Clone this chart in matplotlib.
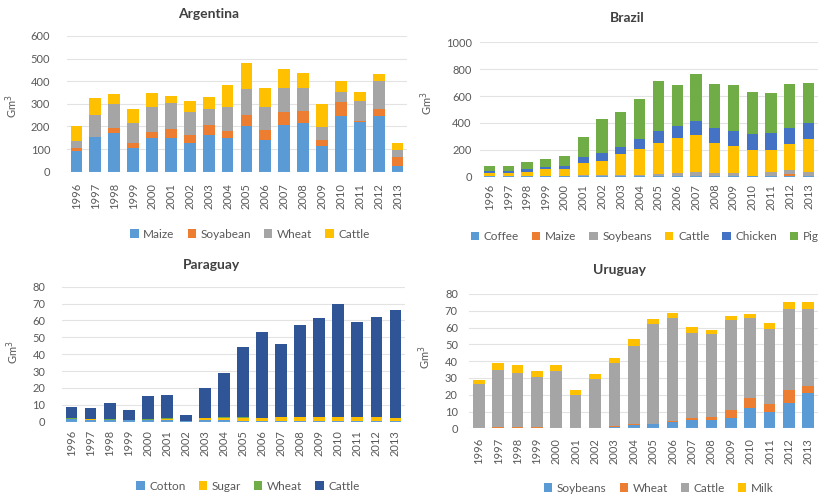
import matplotlib
matplotlib.use("Agg")
import matplotlib.pyplot as plt
import numpy as np
from matplotlib.patches import Patch

plt.rcParams['font.family'] = ['Lato', 'DejaVu Sans']

years = [str(y) for y in range(1996, 2014)]

# Argentina (Gm3)
arg_maize = [91, 152, 172, 105, 150, 150, 127, 164, 149, 204, 142, 206, 214, 115, 245, 220, 248, 27]
arg_soy = [15, 3, 20, 20, 24, 40, 37, 42, 32, 47, 42, 58, 56, 25, 63, 3, 31, 39]
arg_wheat = [31, 96, 109, 92, 114, 115, 98, 71, 107, 116, 104, 108, 99, 56, 46, 91, 122, 30]
arg_cattle = [65, 76, 43, 60, 60, 28, 51, 55, 95, 112, 84, 82, 66, 102, 46, 37, 31, 32]

# Brazil (Gm3)
bra_coffee = [2, 2, 2, 2, 2, 3, 3, 3, 3, 3, 3, 3, 3, 3, 2, 3, 3, 3]
bra_maize = [0, 0, 0, 0, 0, 1, 1, 1, 1, 2, 2, 3, 3, 4, 2, 3, 18, 4]
bra_soy = [2, 2, 3, 3, 3, 6, 6, 8, 6, 15, 20, 26, 19, 23, 4, 31, 28, 30]
bra_cattle = [21, 21, 32, 52, 50, 95, 110, 155, 195, 232, 266, 277, 227, 197, 194, 165, 198, 247]
bra_chicken = [20, 20, 20, 18, 25, 45, 55, 55, 77, 86, 87, 103, 113, 111, 114, 124, 118, 118]
bra_pig = [35, 35, 50, 60, 77, 142, 255, 263, 293, 371, 306, 353, 326, 346, 314, 296, 326, 297]

# Paraguay (Gm3)
par_cotton = [1.5, 1.2, 1, 0.8, 1, 1.2, 0.3, 0.8, 0.8, 0.4, 0.2, 0.2, 0.2, 0.2, 0.2, 0.2, 0.2, 0.2]
par_sugar = [0.3, 0.3, 0.3, 0.3, 0.3, 0.5, 0.3, 1.2, 1.5, 2, 2, 2.5, 2.5, 2.5, 2.5, 2.5, 2.5, 2]
par_wheat = [0.1, 0.1, 0.1, 0.1, 0.1, 0.2, 0.1, 0.2, 0.2, 0.2, 0.2, 0.2, 0.2, 0.2, 0.2, 0.2, 0.2, 0.2]
par_cattle = [7.1, 6.4, 9.6, 5.8, 13.6, 14.1, 3.3, 17.8, 26.5, 41.4, 50.6, 43.1, 54.6, 58.6, 67.1, 56.4, 59.3, 63.6]

# Uruguay (Gm3)
uru_soy = [0, 0, 0, 0, 0, 0, 0, 1, 2, 2.5, 3.5, 5, 5, 6, 12, 10, 15.3, 21.2]
uru_wheat = [0.3, 0.5, 0.5, 0.5, 0.3, 0.2, 0.3, 0.3, 0.3, 0.3, 1, 1, 2, 5, 6, 4.5, 7.5, 3.8]
uru_cattle = [26.1, 34.5, 32.2, 30.3, 34, 19.6, 29.1, 37.4, 46.7, 59.2, 61.5, 51, 49, 53.5, 47.5, 44.5, 48.2, 46]
uru_milk = [2.6, 3.7, 5, 3.2, 3.4, 2.8, 2.9, 3.2, 4, 3, 2.7, 3.5, 2.5, 2.5, 2.5, 3.5, 4, 4]

BLUE = "#5B9BD5"
ORANGE = "#ED7D31"
GRAY = "#A5A5A5"
GOLD = "#FFC000"
MIDBLUE = "#4472C4"
GREEN = "#70AD47"
DARKBLUE = "#2F5597"
TEXT = "#595959"

W, H = 831, 498
fig = plt.figure(figsize=(W / 100, H / 100), dpi=100)


def px_axes(x0, x1, y0, y1):
    return fig.add_axes([x0 / W, 1 - y1 / H, (x1 - x0) / W, (y1 - y0) / H])


def panel(rect, series, names, colors, ymax, ystep, title, title_xy, legend_xy,
          ylab_xy, ypad, xpad, width=0.62):
    ax = px_axes(*rect)
    x = np.arange(len(years))
    bottom = np.zeros(len(years))
    for vals, c in zip(series, colors):
        v = np.asarray(vals, dtype=float)
        ax.bar(x, v, width=width, bottom=bottom, color=c, linewidth=0, zorder=3)
        bottom += v
    ax.set_xlim(-0.5, len(years) - 0.5)
    ax.set_ylim(0, ymax)
    ax.set_yticks(np.arange(0, ymax + ystep / 2, ystep))
    ax.set_xticks(x)
    ax.set_xticklabels(years, rotation=90)
    ax.tick_params(axis='both', length=0, labelsize=8, colors=TEXT)
    ax.tick_params(axis='y', pad=ypad)
    ax.tick_params(axis='x', pad=xpad)
    ax.grid(axis='y', color="#E3E3E3", linewidth=0.8, zorder=0)
    for s in ax.spines.values():
        s.set_visible(False)
    ax.axhline(0, color="#D9D9D9", linewidth=0.8, zorder=4)
    fig.text(title_xy[0] / W, 1 - title_xy[1] / H, title, ha='center', va='center',
             fontsize=10, fontweight='bold', color="#404040")
    fig.text(ylab_xy[0] / W, 1 - ylab_xy[1] / H, "Gm$^3$", ha='center', va='center',
             rotation=90, fontsize=8, color=TEXT)
    handles = [Patch(facecolor=c, edgecolor='none', label=n) for n, c in zip(names, colors)]
    fig.legend(handles=handles, loc='center', ncol=len(names), frameon=False,
               bbox_to_anchor=(legend_xy[0] / W, 1 - legend_xy[1] / H),
               fontsize=8.5, handlelength=0.7, handleheight=0.7, handletextpad=0.4,
               columnspacing=1.1, labelcolor=TEXT)
    return ax


panel((67, 407, 36, 171.7),
      [arg_maize, arg_soy, arg_wheat, arg_cattle],
      ["Maize", "Soyabean", "Wheat", "Cattle"],
      [BLUE, ORANGE, GRAY, GOLD],
      600, 100, "Argentina", (209, 14), (250, 234), (12, 106), 12, 8)

panel((480, 818, 42.3, 176.7),
      [bra_coffee, bra_maize, bra_soy, bra_cattle, bra_chicken, bra_pig],
      ["Coffee", "Maize", "Soybeans", "Cattle", "Chicken", "Pig"],
      [BLUE, ORANGE, GRAY, GOLD, MIDBLUE, GREEN],
      1000, 200, "Brazil", (627, 18), (645, 237), (427, 103), 6, 5, width=0.6)

panel((62, 405, 286.7, 421.7),
      [par_cotton, par_sugar, par_wheat, par_cattle],
      ["Cotton", "Sugar", "Wheat", "Cattle"],
      [BLUE, GOLD, GREEN, DARKBLUE],
      80, 10, "Paraguay", (212, 265), (248, 486), (13, 352), 12, 6)

panel((469, 818, 294, 428.3),
      [uru_soy, uru_wheat, uru_cattle, uru_milk],
      ["Soybeans", "Wheat", "Cattle", "Milk"],
      [BLUE, ORANGE, GRAY, GOLD],
      80, 10, "Uruguay", (620, 270), (659, 488), (425, 357), 8, 7, width=0.6)

fig.savefig("out.png", dpi=100, facecolor="white")
